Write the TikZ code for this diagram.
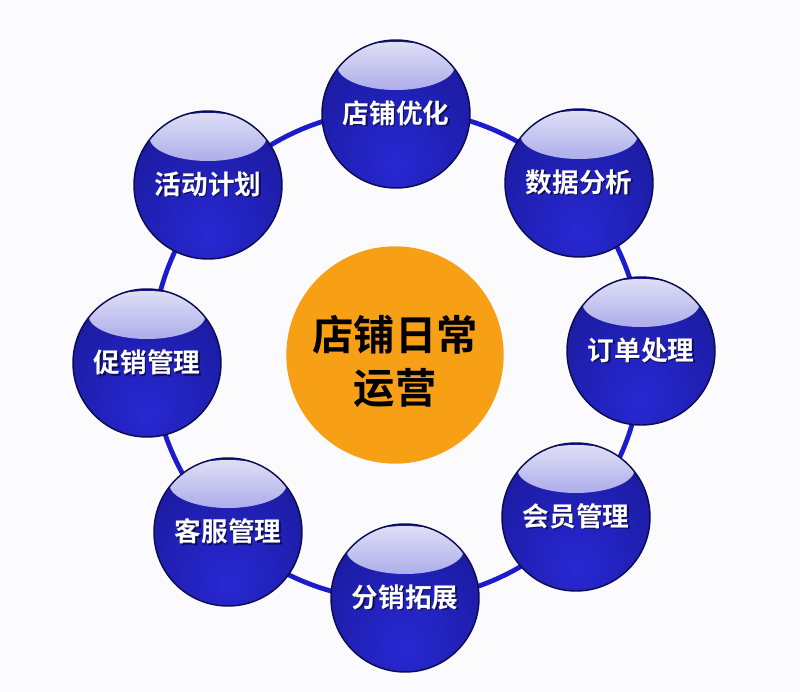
\documentclass[tikz,border=0pt]{standalone}
\usepackage{fontspec}
\newfontfamily\cjk{Noto Sans CJK SC}[BoldFont={Noto Sans CJK SC Bold}]
\usepackage{tikz}
\usetikzlibrary{positioning}

\definecolor{bg}{RGB}{251,251,253}
\definecolor{ringblue}{RGB}{28,28,205}
\definecolor{balldark}{RGB}{18,18,125}
\definecolor{ballmid}{RGB}{30,30,172}
\definecolor{ballbright}{RGB}{40,40,212}
\definecolor{balledge}{RGB}{12,12,82}
\definecolor{glosstop}{RGB}{224,224,246}
\definecolor{glossbot}{RGB}{74,74,212}
\definecolor{hubfill}{RGB}{247,160,22}

\pgfdeclareradialshading{sphere}{\pgfpoint{0bp}{-18bp}}{color(0bp)=(ballbright); color(26bp)=(ballmid); color(52bp)=(balldark); color(75bp)=(balldark)}

% texto com sombra
\newcommand\shtxt[1]{\makebox[0pt][l]{\kern1.2pt\raisebox{-1.2pt}{\color{balledge}#1}}#1}

\tikzset{
  ball/.style = {circle, inner sep=0pt, minimum size=111pt,
                 shading=sphere, draw=balledge, line width=1.1pt,
                 text=white, font=\cjk\bfseries\fontsize{20}{24}\selectfont,
                 path picture={\shade[top color=glosstop, bottom color=glossbot]
                   ([yshift=36pt]path picture bounding box.center)
                   ellipse [x radius=44pt, y radius=18pt];}},
  hub/.style  = {circle, inner sep=0pt, minimum size=163pt, fill=hubfill,
                 align=center, text=black,
                 font=\cjk\bfseries\fontsize{31}{40}\selectfont},
  ring/.style = {draw=ringblue, line width=3.6pt}
}

\begin{document}
\begin{tikzpicture}[x=0.75pt,y=-0.75pt]
\useasboundingbox (0,0) rectangle (800,692);
\fill[bg] (0,0) rectangle (800,692);

% anel
\coordinate (ringc) at (397,355);
\draw[ring] (ringc) circle[radius=245];

% centro
\node [hub] at (395,355) (hub) {\rule{0pt}{36pt}店铺日常\\运营};

% esferas
\node [ball] at (396,114) (shop)    {\shtxt{店铺优化}};
\node [ball] at (579,183) (data)    {\shtxt{数据分析}};
\node [ball] at (641,351) (order)   {\shtxt{订单处理}};
\node [ball] at (576,517) (member)  {\shtxt{会员管理}};
\node [ball] at (405,598) (dist)    {\shtxt{分销拓展}};
\node [ball] at (228,532) (service) {\shtxt{客服管理}};
\node [ball] at (147,363) (promo)   {\shtxt{促销管理}};
\node [ball] at (208,185) (event)   {\shtxt{活动计划}};
\end{tikzpicture}
\end{document}
